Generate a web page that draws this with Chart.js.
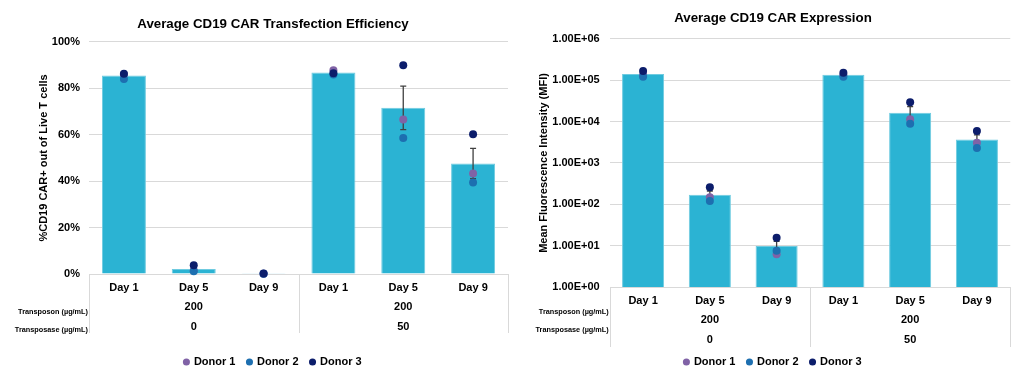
<!DOCTYPE html>
<html>
<head>
<meta charset="utf-8">
<script src="https://cdn.jsdelivr.net/npm/chart.js@4.4.1/dist/chart.umd.min.js"></script>
<style>
  html, body { margin: 0; padding: 0; background: #fff; }
  .wrap { position: absolute; top: 0; width: 512px; height: 384px; }
</style>
</head>
<body>
<div class="wrap" style="left:0"><canvas id="c_eff"></canvas></div>
<div class="wrap" style="left:512px"><canvas id="c_mfi"></canvas></div>
<script>
// ── datos ─────────────────────────────────────────
const dayLabels = ['Day 1', 'Day 5', 'Day 9', 'Day 1', 'Day 5', 'Day 9'];
const transposonGroups = ['200', '200'];
const transposaseGroups = ['0', '50'];
const rowTitles = ['Transposon (µg/mL)', 'Transposase (µg/mL)'];
const donorNames = ['Donor 1', 'Donor 2', 'Donor 3'];

// %CD19 CAR+ (izquierda)
const effMean   = [85.5, 2.2, 0.1, 86.8, 71.6, 47.6];
const effErr    = [0.7, 0.8, 0.05, 0.5, 9.4, 6.5];
const effDonor1 = [86.0, 1.5, 0.1, 87.8, 66.6, 43.3];
const effDonor2 = [84.0, 1.2, 0.1, 86.0, 58.6, 39.4];
const effDonor3 = [86.3, 3.8, 0.2, 86.5, 90.0, 60.2];

// MFI (derecha)
const mfiMean   = [142000, 170, 9.8, 136000, 16500, 3700];
const mfiErr    = [14000, 40, 2.9, 9000, 6600, 1100];
const mfiDonor1 = [135000, 148, 6.2, 135000, 11500, 3100];
const mfiDonor2 = [122000, 121, 7.5, 122000, 8900, 2300];
const mfiDonor3 = [168000, 257, 15.5, 152000, 29500, 5900];
const mfiTicks  = [1, 10, 100, 1000, 10000, 100000, 1000000];

// ── estilos ───────────────────────────────────────
const BAR = '#2bb3d3';
const DONOR_COLORS = ['#8062a6', '#1d6fb0', '#0c1d6b'];
const GRID = '#d9d9d9';
const FONT = "'Liberation Sans', Arial, sans-serif";

Chart.defaults.font.family = FONT;
Chart.defaults.font.weight = 'bold';
Chart.defaults.color = '#000';

// Error bars + tabla de categorías bajo el eje X
const tableAxis = {
  id: 'tableAxis',
  afterDatasetDraw(chart, args, opts) {
    if (args.index !== 0) return;
    const {ctx} = chart;
    const x = chart.scales.x, y = chart.scales.y;
    ctx.save();
    ctx.strokeStyle = '#404040';
    ctx.lineWidth = 1.3;
    opts.mean.forEach((m, i) => {
      const px = x.getPixelForValue(i);
      const top = y.getPixelForValue(m + opts.err[i]);
      const bot = y.getPixelForValue(Math.max(m - opts.err[i], y.min));
      ctx.beginPath();
      ctx.moveTo(px, top); ctx.lineTo(px, bot);
      ctx.moveTo(px - 3, top); ctx.lineTo(px + 3, top);
      ctx.moveTo(px - 3, bot); ctx.lineTo(px + 3, bot);
      ctx.stroke();
    });
    ctx.restore();
  },
  afterDraw(chart, args, opts) {
    const {ctx, chartArea: a} = chart;
    const x = chart.scales.x;
    ctx.save();
    ctx.strokeStyle = GRID;
    ctx.lineWidth = 1;
    const mid = (x.getPixelForValue(2) + x.getPixelForValue(3)) / 2;
    [a.left, mid, a.right].forEach(px => {
      const sx = Math.round(px) + 0.5;
      ctx.beginPath();
      ctx.moveTo(sx, a.bottom);
      ctx.lineTo(sx, a.bottom + opts.tableHeight);
      ctx.stroke();
    });
    ctx.fillStyle = '#000';
    ctx.textAlign = 'center';
    ctx.textBaseline = 'middle';
    ctx.font = 'bold 11px ' + FONT;
    [1, 4].forEach((c, g) => {
      const px = x.getPixelForValue(c);
      ctx.fillText(transposonGroups[g], px, a.bottom + opts.groupY[0]);
      ctx.fillText(transposaseGroups[g], px, a.bottom + opts.groupY[1]);
    });
    ctx.textAlign = 'right';
    ctx.font = 'bold 7.3px ' + FONT;
    rowTitles.forEach((t, r) => ctx.fillText(t, a.left - 1, a.bottom + opts.rowY[r]));
    ctx.restore();
  },
};

function donorSet(i, data) {
  return {
    type: 'line',
    label: donorNames[i],
    data,
    showLine: false,
    pointStyle: 'circle',
    pointRadius: 4,
    pointHoverRadius: 4,
    pointBorderWidth: 0,
    backgroundColor: DONOR_COLORS[i],
    borderColor: DONOR_COLORS[i],
    clip: false,
    order: 3 - i,
  };
}

function buildChart(id, c) {
  return new Chart(document.getElementById(id), {
    type: 'bar',
    data: {
      labels: dayLabels,
      datasets: [
        {
          label: '',
          data: c.mean,
          backgroundColor: BAR,
          borderColor: '#6fcbe0',
          borderWidth: 1,
          barPercentage: 0.63,
          categoryPercentage: 1,
          order: 4,
        },
        ...c.donors.map((d, i) => donorSet(i, d)),
      ],
    },
    options: {
      responsive: true,
      maintainAspectRatio: false,
      animation: false,
      events: [],
      layout: {padding: c.padding},
      plugins: {
        title: {
          display: true,
          text: c.title,
          color: '#000',
          font: {size: 13.3, weight: 'bold'},
          padding: c.titlePad,
        },
        legend: {
          position: 'bottom',
          labels: {
            filter: item => item.datasetIndex > 0,
            sort: (a, b) => a.datasetIndex - b.datasetIndex,
            usePointStyle: true,
            boxWidth: 4,
            boxHeight: 5,
            padding: 12,
            color: '#000',
            font: {size: 11, weight: 'bold'},
          },
        },
        tooltip: {enabled: false},
        tableAxis: {
          mean: c.mean,
          err: c.err,
          tableHeight: c.tableHeight,
          groupY: c.groupY,
          rowY: c.rowY,
        },
      },
      scales: {
        x: {
          grid: {display: false, drawTicks: false},
          border: {display: false},
          ticks: {padding: 7, font: {size: 11, weight: 'bold'}, color: '#000'},
          afterFit: s => { s.height = c.xHeight; },
        },
        y: c.y,
      },
    },
    plugins: [tableAxis],
  });
}

// ── Gráfico izquierdo ─────────────────────────────
buildChart('c_eff', {
  title: 'Average CD19 CAR Transfection Efficiency',
  mean: effMean,
  err: effErr,
  donors: [effDonor1, effDonor2, effDonor3],
  padding: {left: 37, right: 3, top: 0, bottom: 6.5},
  titlePad: {top: 16, bottom: 10},
  xHeight: 70.5,
  tableHeight: 59,
  groupY: [33, 53],
  rowY: [38, 56],
  y: {
    min: 0,
    max: 100,
    ticks: {stepSize: 20, padding: 9, font: {size: 11, weight: 'bold'}, color: '#000', callback: v => v + '%'},
    grid: {color: GRID, drawTicks: false},
    border: {display: false},
    title: {display: true, text: '%CD19 CAR+ out of Live T cells', color: '#000', font: {size: 11, weight: 'bold'}, padding: {top: 0, bottom: 0}},
    afterFit: s => { s.width = 52; },
  },
});

// ── Gráfico derecho (log) ─────────────────────────
buildChart('c_mfi', {
  title: 'Average CD19 CAR Expression',
  mean: mfiMean,
  err: mfiErr,
  donors: [mfiDonor1, mfiDonor2, mfiDonor3],
  padding: {left: 23.7, right: 13.7, top: 0, bottom: 6.5},
  titlePad: {top: 10.3, bottom: 12.7},
  xHeight: 57.5,
  tableHeight: 60,
  groupY: [33, 53],
  rowY: [25, 43],
  y: {
    type: 'logarithmic',
    min: 1,
    max: 1000000,
    afterBuildTicks: s => { s.ticks = mfiTicks.map(v => ({value: v})); },
    ticks: {
      padding: 10,
      font: {size: 11, weight: 'bold'},
      color: '#000',
      callback: v => '1.00E+' + String(Math.round(Math.log10(v))).padStart(2, '0'),
    },
    grid: {color: GRID, drawTicks: false},
    border: {display: false},
    title: {display: true, text: 'Mean Fluorescence Intensity (MFI)', color: '#000', font: {size: 11, weight: 'bold'}, padding: {top: 1.4, bottom: 0}},
    afterFit: s => { s.width = 74; },
  },
});
</script>
</body>
</html>
